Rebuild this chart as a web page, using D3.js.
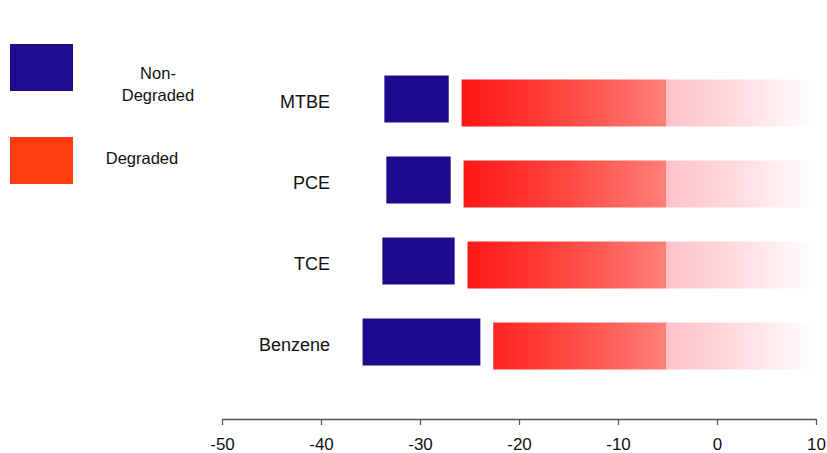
<!DOCTYPE html>
<html>
<head>
<meta charset="utf-8">
<script src="https://cdn.jsdelivr.net/npm/d3@7/dist/d3.min.js"></script>
<style>
  html, body { margin: 0; padding: 0; background: #fff; }
  svg { display: block; font-family: "Liberation Sans", Arial, sans-serif; }
</style>
</head>
<body>
<script>
// ---- data ----
const categories = ["MTBE", "PCE", "TCE", "Benzene"];
const nonDegradedMin = [-33.6, -33.4, -33.8, -35.8];
const nonDegradedMax = [-27.1, -26.9, -26.5, -23.9];
const degradedMin = [-25.8, -25.6, -25.2, -22.6];
const degradedMax = [10, 10, 10, 10];
const solidUntil = -5.2;           // where the solid red part gives way to the fading tail
const xTicks = [-50, -40, -30, -20, -10, 0, 10];
const xDomain = [-50, 10];
const legendItems = [
  { lines: ["Non-", "Degraded"], color: "#1e0d8e" },
  { lines: ["Degraded"], color: "#ff3b12" }
];

// ---- layout ----
const W = 827, H = 453;
const svg = d3.select("body").append("svg").attr("width", W).attr("height", H);

const x = d3.scaleLinear().domain(xDomain).range([222, 816]);
const y = d3.scalePoint().domain(categories).range([99, 342]);
const barH = 47;
const redShift = 4;

const rows = categories.map((c, i) => ({
  cat: c,
  nd0: nonDegradedMin[i], nd1: nonDegradedMax[i],
  d0: degradedMin[i], d1: degradedMax[i]
}));

// gradient for degraded bars (user space so the break sits at the same value)
const defs = svg.append("defs");
const g0 = x(-26), g1 = x(10);
const brk = (x(solidUntil) - g0) / (g1 - g0);
const grad = defs.append("linearGradient")
  .attr("id", "redFade")
  .attr("gradientUnits", "userSpaceOnUse")
  .attr("x1", g0).attr("x2", g1).attr("y1", 0).attr("y2", 0);
[
  [0, "#ff1414"],
  [brk * 0.5, "#ff4640"],
  [brk, "#ff8078"],
  [brk + 0.003, "#ffc2c8"],
  [brk + (1 - brk) * 0.45, "#ffdade"],
  [brk + (1 - brk) * 0.8, "#fff2f3"],
  [1, "#ffffff"]
].forEach(([o, c]) => grad.append("stop").attr("offset", o).attr("stop-color", c));

// degraded bars
svg.append("g").selectAll("rect").data(rows).join("rect")
  .attr("x", d => x(d.d0))
  .attr("y", d => y(d.cat) - barH / 2 + redShift)
  .attr("width", d => x(d.d1) - x(d.d0))
  .attr("height", barH)
  .attr("fill", "url(#redFade)");

// non-degraded bars
svg.append("g").selectAll("rect").data(rows).join("rect")
  .attr("x", d => x(d.nd0))
  .attr("y", d => y(d.cat) - barH / 2)
  .attr("width", d => x(d.nd1) - x(d.nd0))
  .attr("height", barH)
  .attr("fill", "#1c0b8c");

// category labels
svg.append("g").selectAll("text").data(rows).join("text")
  .attr("x", 330)
  .attr("y", d => y(d.cat) + 9)
  .attr("text-anchor", "end")
  .attr("font-size", 18)
  .attr("fill", "#111")
  .text(d => d.cat);

// x axis
const axis = svg.append("g")
  .attr("transform", "translate(0,419)")
  .call(d3.axisBottom(x).tickValues(xTicks).tickSize(6).tickSizeOuter(0)
    .tickFormat(d => String(d)));
axis.select(".domain").attr("stroke", "#555").attr("stroke-width", 1.5);
axis.selectAll(".tick line").attr("stroke", "#555").attr("stroke-width", 1.2);
axis.selectAll(".tick text")
  .attr("font-family", "'Liberation Sans', Arial, sans-serif")
  .attr("font-size", 17)
  .attr("fill", "#111")
  .attr("dy", null)
  .attr("y", 31);

// legend
const leg = svg.append("g");
legendItems.forEach((item, i) => {
  const top = 44 + i * 93;
  leg.append("rect").attr("x", 10).attr("y", top).attr("width", 63).attr("height", 47).attr("fill", item.color);
  const n = item.lines.length;
  item.lines.forEach((t, j) => {
    leg.append("text")
      .attr("x", n > 1 ? 158 : 142)
      .attr("y", top + (n > 1 ? 35 + j * 22 : 27))
      .attr("text-anchor", "middle")
      .attr("font-size", 16.5)
      .attr("fill", "#111")
      .text(t);
  });
});
</script>
</body>
</html>
